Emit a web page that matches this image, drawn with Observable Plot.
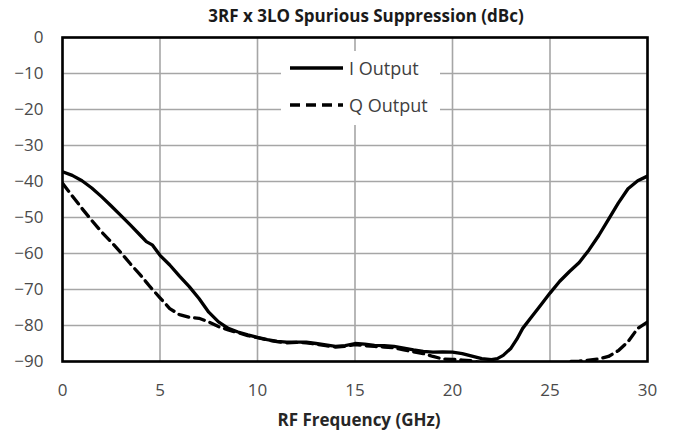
<!DOCTYPE html>
<html>
<head>
<meta charset="utf-8">
<script src="https://cdn.jsdelivr.net/npm/d3@7"></script>
<script src="https://cdn.jsdelivr.net/npm/@observablehq/plot@0.6"></script>
<style>
  body { margin: 0; background: #fff; }
  #wrap { position: relative; width: 676px; height: 442px; overflow: hidden; }
  #title { position: absolute; left: 0; top: 5px; width: 732px; text-align: center;
           font: bold 17px "Open Sans", sans-serif; color: #1a1a1a; line-height: 22px; }
  #legend { position: absolute; left: 281px; top: 51px; width: 159px; height: 74px; background: #fff;
            font: 18px "Open Sans", sans-serif; color: #404040; }
  .item { position: absolute; left: 9px; height: 20px; display: flex; align-items: center; }
  .item svg { margin-right: 6px; }
</style>
</head>
<body>
<div id="wrap">
  <div id="title">3RF x 3LO Spurious Suppression (dBc)</div>
</div>
<script>
const title = "3RF x 3LO Spurious Suppression (dBc)";
const xLabel = "RF Frequency (GHz)";
const seriesNames = ["I Output", "Q Output"];
const xTicks = [0, 5, 10, 15, 20, 25, 30];
const yTicks = [0, -10, -20, -30, -40, -50, -60, -70, -80, -90];

const iFreq = [0, 0.5, 1, 1.5, 2, 2.5, 3, 3.5, 4, 4.3, 4.6, 5, 5.5, 6, 6.5, 7, 7.5, 8, 8.5, 9, 9.5, 10,
  10.5, 11, 11.5, 12, 12.5, 13, 13.5, 14, 14.5, 15, 15.5, 16, 16.5, 17, 17.5, 18, 18.5, 19, 19.5, 20,
  20.5, 21, 21.5, 22, 22.3, 22.6, 23, 23.3, 23.6, 24, 24.5, 25, 25.5, 26, 26.5, 27, 27.5, 28, 28.5, 29, 29.5, 30];
const iValues = [-37.3, -38.3, -39.8, -41.8, -44.2, -46.8, -49.5, -52.2, -55, -56.7, -57.6, -60.5, -63.2, -66.3, -69.2, -72.5, -76.3, -79, -80.8, -81.8, -82.6, -83.3,
  -83.9, -84.4, -84.6, -84.6, -84.6, -85, -85.4, -85.8, -85.6, -85, -85.2, -85.5, -85.6, -85.8, -86.3, -86.8, -87.2, -87.4, -87.3, -87.4,
  -87.8, -88.5, -89.2, -89.5, -89.2, -88.3, -86.3, -83.8, -80.8, -78, -74.5, -71, -67.7, -65, -62.5, -59, -55, -50.5, -46, -42, -39.8, -38.5];

const qFreq = [0, 0.5, 1, 1.5, 2, 2.5, 3, 3.5, 4, 4.5, 5, 5.5, 6, 6.5, 7, 7.5, 8, 8.5, 9, 9.5, 10,
  10.5, 11, 11.5, 12, 12.5, 13, 13.5, 14, 14.5, 15, 15.5, 16, 16.5, 17, 17.5, 18, 18.5, 19, 19.5, 20,
  20.5, 21, 21.5, 22, 23, 24, 25, 25.5, 26, 26.5, 27, 27.5, 28, 28.5, 29, 29.5, 30];
const qValues = [-40.5, -44, -47.5, -50.8, -54, -56.8, -59.8, -63, -66, -69.3, -72.3, -75.3, -77, -77.7, -78, -79, -80.3, -81.2, -82, -82.8, -83.4,
  -84, -84.5, -84.8, -84.7, -84.8, -85.2, -85.6, -86, -85.8, -85.3, -85.6, -85.8, -86, -86.2, -86.8, -87.3, -87.8, -88.6, -89.3, -89.4,
  -89.6, -89.8, -90.5, -91, -92, -92, -91.5, -91, -90, -89.9, -89.6, -89.3, -88.6, -87, -84.5, -80.8, -79];

const iData = iFreq.map((f, k) => ({f, v: iValues[k]}));
const qData = qFreq.map((f, k) => ({f, v: qValues[k]}));

const chart = Plot.plot({
  width: 676,
  height: 442,
  marginTop: 37,
  marginBottom: 81,
  marginLeft: 62,
  marginRight: 29,
  style: {fontFamily: "'Open Sans', sans-serif", fontSize: "17px", color: "#4a4a4a", background: "#fff"},
  x: {domain: [0, 30], label: null},
  y: {domain: [-90, 0], label: null},
  marks: [
    Plot.gridX(xTicks, {stroke: "#a6a6a6", strokeOpacity: 1, strokeWidth: 1.6}),
    Plot.gridY(yTicks, {stroke: "#a6a6a6", strokeOpacity: 1, strokeWidth: 1.6}),
    Plot.axisX(xTicks, {tickSize: 0, tickPadding: 22, label: null}),
    Plot.axisY(yTicks, {tickSize: 0, tickPadding: 19, label: null}),
    Plot.line(qData, {x: "f", y: "v", stroke: "#000", strokeWidth: 3.3, strokeDasharray: "10,6", clip: true}),
    Plot.line(iData, {x: "f", y: "v", stroke: "#000", strokeWidth: 3.3, clip: true}),
    Plot.frame({stroke: "#000", strokeWidth: 2.6}),
    Plot.text([xLabel], {frameAnchor: "bottom", dy: 64, fontWeight: "bold", fontSize: 17, fill: "#262626", dx: 4})
  ]
});
const wrap = document.getElementById("wrap");
wrap.insertBefore(chart, wrap.firstChild);
chart.style.position = "absolute";
chart.style.left = "0";
chart.style.top = "0";

// legend box (covers the gridlines like the original)
const legend = document.createElement("div");
legend.id = "legend";
const dashes = ["none", "10,6"];
const tops = [7, 44];
seriesNames.forEach((name, k) => {
  const item = document.createElement("div");
  item.className = "item";
  item.style.top = tops[k] + "px";
  item.innerHTML = `<svg width="53" height="8"><line x1="0" y1="4" x2="53" y2="4" stroke="#000" stroke-width="3.5" stroke-dasharray="${dashes[k]}"/></svg><span>${name}</span>`;
  legend.appendChild(item);
});
wrap.appendChild(legend);
</script>
</body>
</html>
